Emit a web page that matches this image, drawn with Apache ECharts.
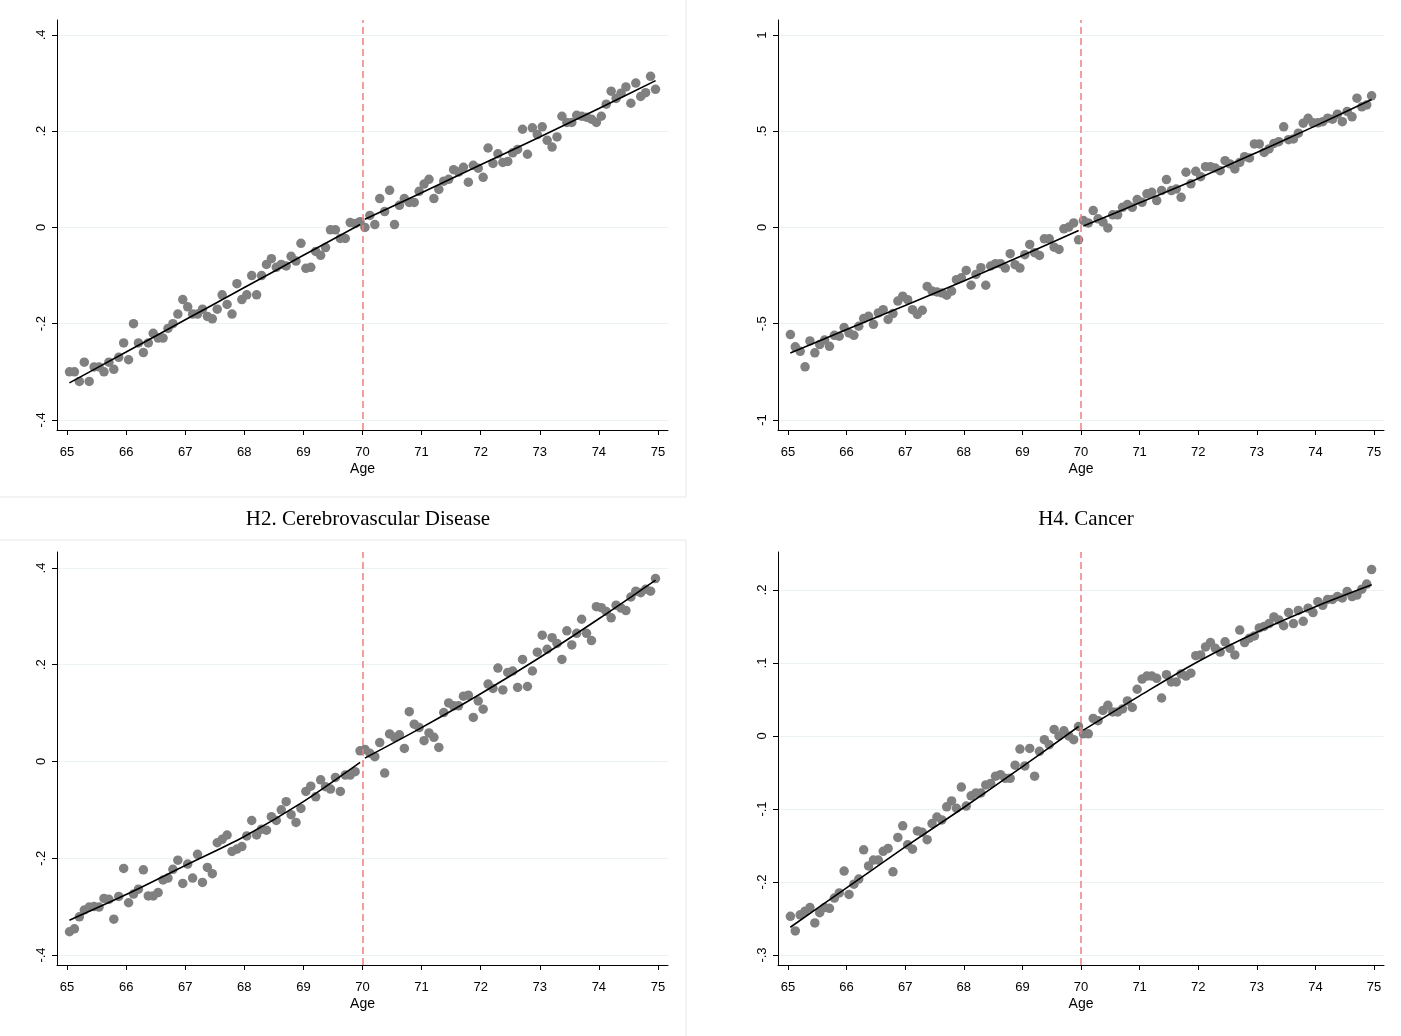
<!DOCTYPE html>
<html>
<head>
<meta charset="utf-8">
<script src="https://cdn.jsdelivr.net/npm/echarts@6/dist/echarts.min.js"></script>
<style>
  html, body { margin: 0; padding: 0; background: #fff; }
  #chart { width: 1401px; height: 1036px; }
</style>
</head>
<body>
<div id="chart"></div>
<script>
// ages: one point per month, mid-month, 65 to 75
const ageTicks = [65, 66, 67, 68, 69, 70, 71, 72, 73, 74, 75]
const ages = []
for (let i = 0; i < 120; i++) ages.push(65 + (i + 0.5) / 12)
const cutoff = 70

// top left panel
const tlTicks = [-0.4, -0.2, 0, 0.2, 0.4]
const tlValues = [
  -0.30, -0.30, -0.32, -0.28, -0.32, -0.29, -0.29, -0.30, -0.28, -0.295, -0.27, -0.24,
  -0.275, -0.20, -0.24, -0.26, -0.24, -0.22, -0.23, -0.23, -0.21, -0.20, -0.18, -0.15,
  -0.165, -0.18, -0.18, -0.17, -0.185, -0.19, -0.17, -0.14, -0.16, -0.18, -0.117, -0.15,
  -0.14, -0.10, -0.14, -0.10, -0.077, -0.065, -0.083, -0.077, -0.08, -0.06, -0.07, -0.033,
  -0.085, -0.083, -0.05, -0.058, -0.042, -0.005, -0.005, -0.023, -0.023, 0.01, 0.008, 0.012,
  0.0, 0.025, 0.006, 0.06, 0.033, 0.077, 0.006, 0.046, 0.06, 0.052, 0.052, 0.075,
  0.09, 0.10, 0.06, 0.079, 0.096, 0.10, 0.12, 0.115, 0.125, 0.094, 0.129, 0.123,
  0.104, 0.165, 0.133, 0.153, 0.135, 0.137, 0.155, 0.162, 0.204, 0.152, 0.207, 0.193,
  0.209, 0.181, 0.167, 0.188, 0.231, 0.218, 0.218, 0.233, 0.231, 0.229, 0.225, 0.218,
  0.231, 0.256, 0.283, 0.268, 0.279, 0.292, 0.258, 0.30, 0.272, 0.28, 0.314, 0.287
]
const tlFitLeft = [[65.04, -0.323], [66, -0.259], [67, -0.192], [68, -0.125], [69, -0.058], [69.96, 0.006]]
const tlFitRight = [[70.04, 0.017], [71, 0.072], [72, 0.13], [73, 0.188], [74, 0.247], [74.96, 0.305]]

// top right panel
const trTicks = [-1, -0.5, 0, 0.5, 1]
const trValues = [
  -0.556, -0.62, -0.643, -0.724, -0.589, -0.651, -0.608, -0.585, -0.617, -0.56, -0.565, -0.52,
  -0.548, -0.56, -0.513, -0.473, -0.461, -0.503, -0.444, -0.427, -0.478, -0.447, -0.382, -0.357,
  -0.375, -0.427, -0.452, -0.43, -0.306, -0.33, -0.335, -0.34, -0.352, -0.33, -0.271, -0.261,
  -0.223, -0.30, -0.244, -0.209, -0.30, -0.20, -0.188, -0.188, -0.211, -0.136, -0.193, -0.211,
  -0.141, -0.088, -0.131, -0.145, -0.059, -0.059, -0.102, -0.114, -0.007, 0.002, 0.024, -0.064,
  0.036, 0.024, 0.088, 0.045, 0.028, -0.002, 0.066, 0.066, 0.105, 0.119, 0.105, 0.145,
  0.131, 0.175, 0.183, 0.14, 0.192, 0.249, 0.192, 0.20, 0.157, 0.287, 0.227, 0.292,
  0.264, 0.316, 0.316, 0.309, 0.295, 0.347, 0.33, 0.304, 0.338, 0.368, 0.361, 0.434,
  0.434, 0.39, 0.408, 0.437, 0.446, 0.523, 0.456, 0.46, 0.49, 0.542, 0.567, 0.544,
  0.544, 0.55, 0.568, 0.563, 0.589, 0.55, 0.603, 0.575, 0.672, 0.627, 0.637, 0.684
]
const trFitLeft = [[65.04, -0.652], [66, -0.53], [67, -0.405], [68, -0.278], [69, -0.145], [69.96, -0.016]]
const trFitRight = [[70.04, 0.008], [71, 0.128], [72, 0.255], [73, 0.39], [74, 0.528], [74.96, 0.665]]

// bottom left panel: H2. Cerebrovascular Disease
const h2Ticks = [-0.4, -0.2, 0, 0.2, 0.4]
const h2Values = [
  -0.352, -0.346, -0.321, -0.307, -0.301, -0.30, -0.301, -0.283, -0.285, -0.326, -0.279, -0.221,
  -0.292, -0.274, -0.264, -0.224, -0.278, -0.278, -0.271, -0.245, -0.241, -0.223, -0.204, -0.252,
  -0.212, -0.241, -0.192, -0.25, -0.219, -0.232, -0.168, -0.161, -0.152, -0.186, -0.181, -0.176,
  -0.154, -0.122, -0.152, -0.14, -0.142, -0.114, -0.122, -0.10, -0.083, -0.11, -0.126, -0.097,
  -0.062, -0.051, -0.073, -0.038, -0.052, -0.057, -0.033, -0.062, -0.028, -0.028, -0.021, 0.022,
  0.025, 0.017, 0.01, 0.039, -0.024, 0.057, 0.05, 0.055, 0.027, 0.103, 0.077, 0.07,
  0.043, 0.059, 0.05, 0.029, 0.101, 0.121, 0.115, 0.115, 0.135, 0.137, 0.091, 0.125,
  0.108, 0.16, 0.151, 0.193, 0.148, 0.184, 0.187, 0.153, 0.211, 0.155, 0.187, 0.226,
  0.261, 0.232, 0.256, 0.244, 0.211, 0.27, 0.241, 0.265, 0.294, 0.265, 0.25, 0.32,
  0.318, 0.31, 0.297, 0.323, 0.317, 0.312, 0.34, 0.352, 0.349, 0.356, 0.352, 0.378
]
const h2FitLeft = [[65.04, -0.328], [66, -0.275], [67, -0.215], [68, -0.155], [69, -0.083], [69.96, -0.002]]
const h2FitRight = [[70.04, 0.007], [71, 0.07], [72, 0.14], [73, 0.215], [74, 0.295], [74.96, 0.375]]

// bottom right panel: H4. Cancer
const h4Ticks = [-0.3, -0.2, -0.1, 0, 0.1, 0.2]
const h4Values = [
  -0.247, -0.267, -0.245, -0.24, -0.235, -0.256, -0.242, -0.235, -0.236, -0.222, -0.215, -0.185,
  -0.217, -0.203, -0.196, -0.156, -0.178, -0.17, -0.17, -0.158, -0.154, -0.186, -0.139, -0.123,
  -0.149, -0.155, -0.13, -0.132, -0.142, -0.12, -0.111, -0.115, -0.097, -0.089, -0.099, -0.07,
  -0.096, -0.082, -0.078, -0.078, -0.067, -0.065, -0.055, -0.053, -0.058, -0.058, -0.04, -0.018,
  -0.041, -0.017, -0.055, -0.021, -0.005, -0.012, 0.009, 0.0, 0.007, 0.0, -0.005, 0.013,
  0.003, 0.003, 0.024, 0.021, 0.035, 0.042, 0.033, 0.033, 0.037, 0.048, 0.039, 0.064,
  0.078, 0.082, 0.082, 0.079, 0.052, 0.084, 0.074, 0.074, 0.085, 0.082, 0.086, 0.11,
  0.111, 0.122, 0.128, 0.12, 0.115, 0.129, 0.12, 0.111, 0.145, 0.128, 0.134, 0.137,
  0.148, 0.15, 0.154, 0.163, 0.159, 0.151, 0.169, 0.154, 0.172, 0.157, 0.175, 0.169,
  0.184, 0.179, 0.187, 0.187, 0.191, 0.189, 0.198, 0.191, 0.193, 0.201, 0.208, 0.228
]
const h4FitLeft = [[65.04, -0.262], [66, -0.208], [67, -0.152], [68, -0.098], [69, -0.042], [69.96, 0.013]]
const h4FitRight = [[70.04, 0.008], [71, 0.055], [72, 0.102], [73, 0.142], [74, 0.177], [74.96, 0.207]]

const panels = [
  { grid: { left: 57, top: 20, width: 611, height: 410 }, yMin: -0.421, yMax: 0.431, ticks: tlTicks, values: tlValues, fitLeft: tlFitLeft, fitRight: tlFitRight },
  { grid: { left: 778, top: 20, width: 606, height: 410 }, yMin: -1.052, yMax: 1.078, ticks: trTicks, values: trValues, fitLeft: trFitLeft, fitRight: trFitRight },
  { grid: { left: 57, top: 552, width: 611, height: 413 }, yMin: -0.4207, yMax: 0.433, ticks: h2Ticks, values: h2Values, fitLeft: h2FitLeft, fitRight: h2FitRight },
  { grid: { left: 778, top: 552, width: 606, height: 413 }, yMin: -0.3137, yMax: 0.252, ticks: h4Ticks, values: h4Values, fitLeft: h4FitLeft, fitRight: h4FitRight }
]

// stata style labels: .4, -.2, 0, 1
function tickLabel (v) {
  return String(Math.round(v * 100) / 100).replace('0.', '.')
}

const axisFont = { fontFamily: 'Liberation Sans', fontSize: 13, color: '#000' }
const grids = []
const xAxes = []
const yAxes = []
const series = []

panels.forEach(function (p, i) {
  grids.push(p.grid)
  xAxes.push({
    type: 'value',
    gridIndex: i,
    min: 64.83,
    max: 75.17,
    name: 'Age',
    nameLocation: 'middle',
    nameGap: 32,
    nameTextStyle: { fontFamily: 'Liberation Sans', fontSize: 14, color: '#000' },
    axisLine: { show: true, onZero: false, lineStyle: { color: '#000', width: 1 } },
    axisTick: { show: true, length: 5, customValues: ageTicks, lineStyle: { color: '#000' } },
    axisLabel: Object.assign({ customValues: ageTicks, margin: 16 }, axisFont),
    splitLine: { show: false }
  })
  yAxes.push({
    type: 'value',
    gridIndex: i,
    min: p.yMin,
    max: p.yMax,
    axisLine: { show: true, onZero: false, lineStyle: { color: '#000', width: 1 } },
    axisTick: { show: true, length: 5, customValues: p.ticks, lineStyle: { color: '#000' } },
    axisLabel: Object.assign({ customValues: p.ticks, rotate: 90, margin: 9, formatter: tickLabel }, axisFont),
    splitLine: { show: true, lineStyle: { color: '#eaf2f3', width: 1 } }
  })
  series.push({
    type: 'scatter',
    xAxisIndex: i,
    yAxisIndex: i,
    symbolSize: 9.5,
    itemStyle: { color: '#808080', opacity: 1 },
    data: ages.map(function (a, k) { return [a, p.values[k]] }),
    markLine: {
      silent: true,
      symbol: 'none',
      label: { show: false },
      lineStyle: { color: '#f08080', type: [7, 4], width: 1.5 },
      data: [{ xAxis: cutoff }]
    },
    z: 2
  })
  series.push({
    type: 'line', xAxisIndex: i, yAxisIndex: i, data: p.fitLeft, smooth: 0.3,
    showSymbol: false, lineStyle: { color: '#000', width: 1.6 }, z: 3
  })
  series.push({
    type: 'line', xAxisIndex: i, yAxisIndex: i, data: p.fitRight, smooth: 0.3,
    showSymbol: false, lineStyle: { color: '#000', width: 1.6 }, z: 3
  })
})

const chart = echarts.init(document.getElementById('chart'), null, { renderer: 'canvas' })
chart.setOption({
  animation: false,
  backgroundColor: '#fff',
  title: [
    { text: 'H2. Cerebrovascular Disease', left: 363, top: 504, textAlign: 'center', textStyle: { fontFamily: 'Liberation Serif', fontSize: 21, fontWeight: 'normal', color: '#000' } },
    { text: 'H4. Cancer', left: 1081, top: 504, textAlign: 'center', textStyle: { fontFamily: 'Liberation Serif', fontSize: 21, fontWeight: 'normal', color: '#000' } }
  ],
  graphic: [
    { type: 'line', shape: { x1: 686, y1: 0, x2: 686, y2: 497 }, style: { stroke: '#e6e6e6', lineWidth: 1 } },
    { type: 'line', shape: { x1: 0, y1: 497, x2: 686, y2: 497 }, style: { stroke: '#e6e6e6', lineWidth: 1 } },
    { type: 'line', shape: { x1: 0, y1: 540, x2: 686, y2: 540 }, style: { stroke: '#e6e6e6', lineWidth: 1 } },
    { type: 'line', shape: { x1: 686, y1: 540, x2: 686, y2: 1036 }, style: { stroke: '#e6e6e6', lineWidth: 1 } }
  ],
  grid: grids,
  xAxis: xAxes,
  yAxis: yAxes,
  series: series
})
</script>
</body>
</html>
